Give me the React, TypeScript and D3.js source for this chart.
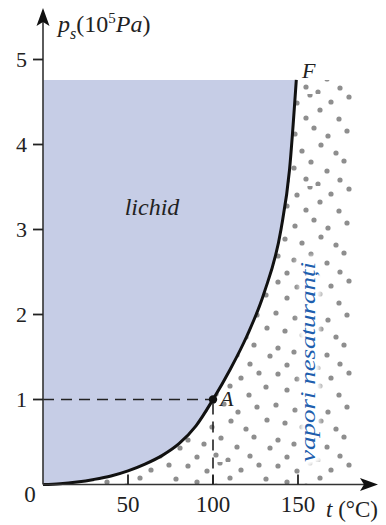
import React from "react";
import * as d3 from "d3";

// Vapor pressure curve (t in °C, p in 10^5 Pa)
const tempC = [0, 10, 20, 30, 40, 50, 60, 70, 80, 90, 100, 110, 120, 130, 140, 145, 149];
const pressure = [0, 0.01, 0.03, 0.06, 0.1, 0.16, 0.24, 0.34, 0.48, 0.69, 1.0, 1.35, 1.75, 2.25, 3.0, 3.7, 4.76];
const xTicks = [50, 100, 150];
const yTicks = [1, 2, 3, 4, 5];
const pointA = { t: 100, p: 1 };
const dotsRightT = 182;

const W = 386, H = 525;
const serif = "Liberation Serif";

export default function App() {
  const x = d3.scaleLinear().domain([0, 150]).range([43, 298]);
  const y = d3.scaleLinear().domain([0, 5]).range([484.5, 59.5]);
  const pts: [number, number][] = tempC.map((t, i) => [t, pressure[i]]);
  const line = d3.line<[number, number]>().x(d => x(d[0])).y(d => y(d[1])).curve(d3.curveMonotoneX);
  const curve = line(pts) as string;
  const last = pts[pts.length - 1];
  const topP = last[1];
  const liquid = `${curve}L${x(0)},${y(topP)}L${x(0)},${y(0)}Z`;
  const vapor = `${curve}L${x(dotsRightT)},${y(topP)}L${x(dotsRightT)},${y(0)}Z`;
  const x0 = x(0), yb = y(0);
  const dotTile = [
    [5, 4], [24, 9], [37, 1], [58, 8], [76, 3],
    [14, 20], [33, 24], [47, 16], [66, 25], [83, 17],
    [3, 35], [22, 40], [41, 34], [55, 42], [74, 37],
    [12, 53], [29, 57], [48, 51], [63, 59], [84, 50],
    [5, 70], [21, 74], [38, 68], [54, 77], [71, 67], [87, 78],
    [14, 87], [33, 85], [45, 90], [67, 86],
  ];

  return (
    <svg width={W} height={H} style={{ position: "absolute", left: 0, top: 0, background: "#fff" }}>
      <defs>
        <pattern id="dots" width={90} height={92} patternUnits="userSpaceOnUse" x={3} y={2}>
          {dotTile.map((d, i) => (
            <circle key={i} cx={d[0]} cy={d[1]} r={2.6} fill="#8e8e8e" />
          ))}
        </pattern>
        <filter id="blur" x="-20%" y="-20%" width="140%" height="140%">
          <feGaussianBlur stdDeviation={2.5} />
        </filter>
      </defs>

      <path d={liquid} fill="#c6cde6" />
      <path d={vapor} fill="url(#dots)" />

      {/* text halo */}
      <g transform={`translate(315,362) rotate(-90)`}>
        <text textAnchor="middle" fontFamily={serif} fontStyle="italic" fontSize={20}
          stroke="#fff" strokeWidth={10} fill="#fff" filter="url(#blur)" textLength={200} lengthAdjust="spacingAndGlyphs">
          vapori nesaturanți
        </text>
        <text textAnchor="middle" fontFamily={serif} fontStyle="italic" fontSize={20}
          fill="#1f5fae" textLength={200} lengthAdjust="spacingAndGlyphs">
          vapori nesaturanți
        </text>
      </g>

      {/* dashed guides */}
      <line x1={x0} x2={x(pointA.t)} y1={y(pointA.p)} y2={y(pointA.p)} stroke="#222" strokeWidth={1.6} strokeDasharray="11 7" />
      <line x1={x(pointA.t)} x2={x(pointA.t)} y1={y(pointA.p)} y2={yb} stroke="#222" strokeWidth={1.6} strokeDasharray="11 7" strokeDashoffset={-4} />

      <path d={curve} fill="none" stroke="#111" strokeWidth={3} />

      {/* axes */}
      <line x1={x0} x2={x0} y1={yb} y2={20} stroke="#333" strokeWidth={1.6} />
      <line x1={x0} x2={365} y1={yb} y2={yb} stroke="#333" strokeWidth={1.6} />
      <path d={`M${x0},8 L${x0 + 6.5},26 L${x0},22 L${x0 - 6.5},26 Z`} fill="#111" />
      <path d={`M378,${yb} L360,${yb - 6.5} L364,${yb} L360,${yb + 6.5} Z`} fill="#111" />

      {yTicks.map(v => (
        <g key={v}>
          <line x1={x0 - 10} x2={x0} y1={y(v)} y2={y(v)} stroke="#222" strokeWidth={1.8} />
          <text x={27} y={y(v) + 7} textAnchor="end" fontFamily={serif} fontSize={22} fill="#222">{v}</text>
        </g>
      ))}
      {xTicks.map(v => (
        <g key={v}>
          <line x1={x(v)} x2={x(v)} y1={yb} y2={yb - 10} stroke="#222" strokeWidth={1.8} />
          <text x={x(v)} y={512} textAnchor="middle" fontFamily={serif} fontSize={23} fill="#222">{v}</text>
        </g>
      ))}
      <text x={30} y={502} textAnchor="middle" fontFamily={serif} fontSize={23} fill="#222">0</text>

      {/* point A and F */}
      <circle cx={x(pointA.t)} cy={y(pointA.p)} r={4.2} fill="#111" />
      <text x={220} y={406} fontFamily={serif} fontStyle="italic" fontSize={22} fill="#222">A</text>
      <text x={302} y={78} fontFamily={serif} fontStyle="italic" fontSize={22} fill="#222">F</text>

      <text x={152} y={215} textAnchor="middle" fontFamily={serif} fontStyle="italic" fontSize={24} fill="#222">lichid</text>

      {/* axis labels */}
      <text x={58} y={32} fontFamily={serif} fontSize={24} fill="#222">
        <tspan fontStyle="italic">p</tspan>
        <tspan fontStyle="italic" fontSize={16} dy={7}>s</tspan>
        <tspan dy={-7}>(10</tspan>
        <tspan fontSize={15} dy={-9}>5</tspan>
        <tspan fontStyle="italic" dy={9}>Pa</tspan>
        <tspan>)</tspan>
      </text>
      <text x={326} y={517} fontFamily={serif} fontSize={23} fill="#222">
        <tspan fontStyle="italic">t</tspan>
        <tspan> (°C)</tspan>
      </text>
    </svg>
  );
}
